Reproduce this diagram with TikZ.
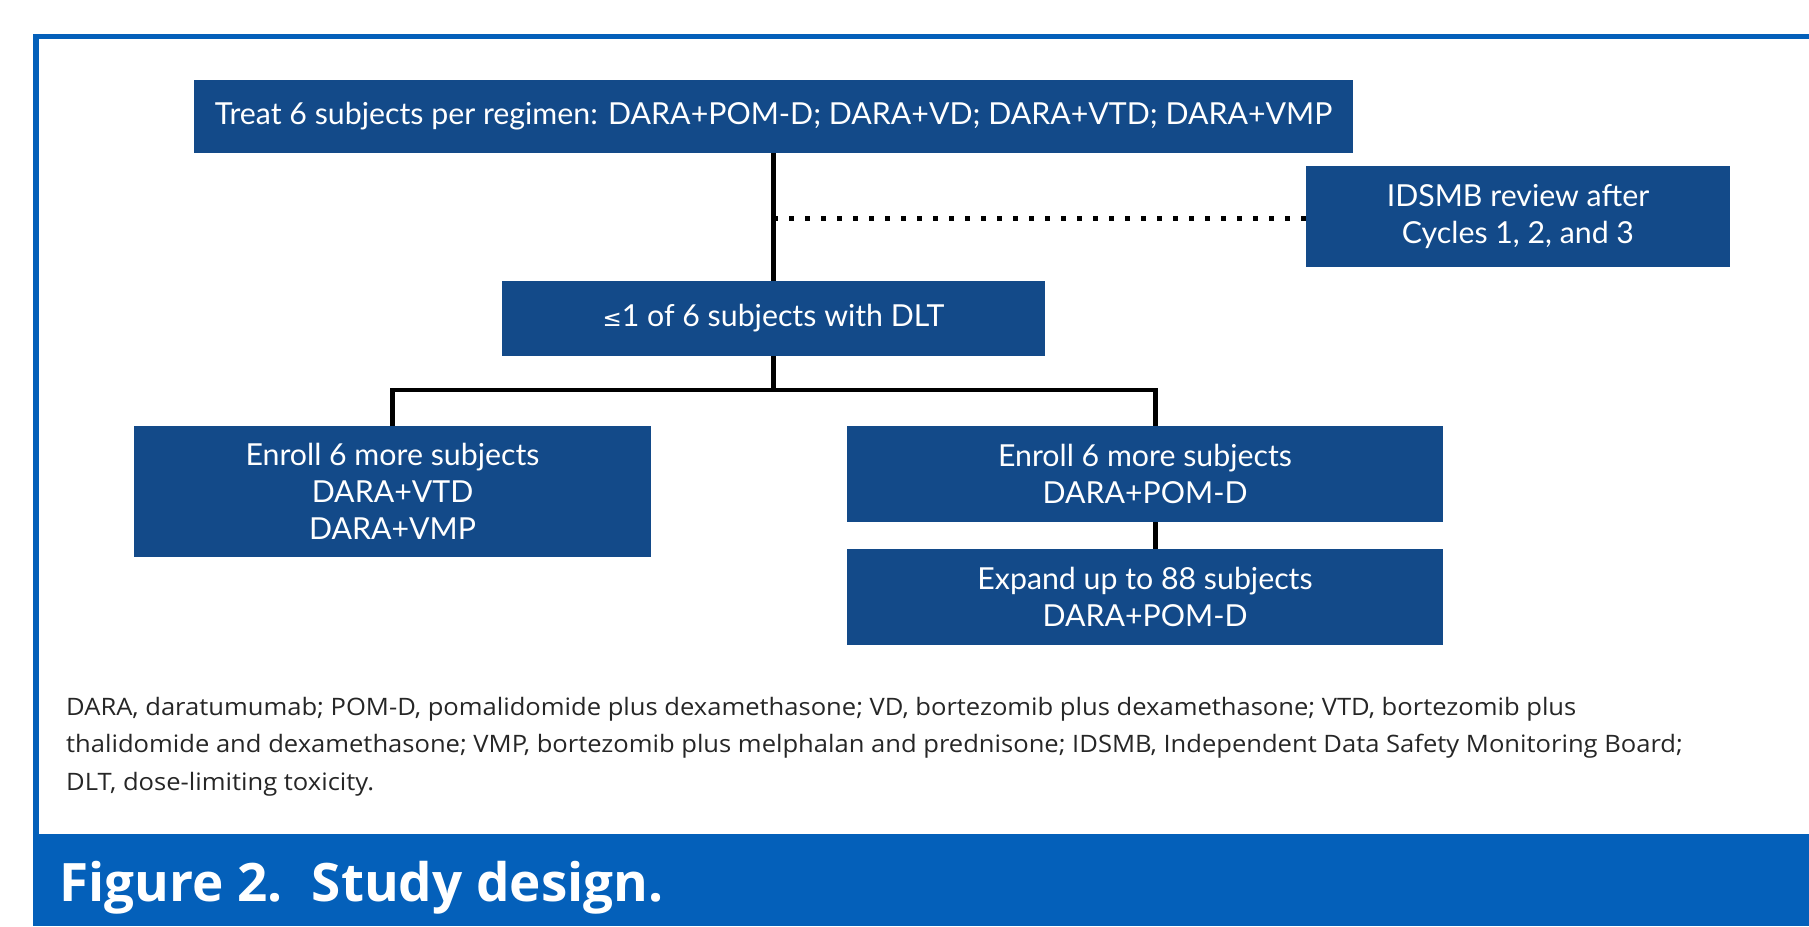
\documentclass[tikz,border=0pt]{standalone}
\usepackage{fontspec}
\setmainfont{Lato}
\newfontfamily\symfont{DejaVu Sans}
\newfontfamily\capfont{Open Sans}
\newfontfamily\notefont{Open Sans}[FakeStretch=1.065]
\definecolor{navy}{RGB}{19,74,137}
\definecolor{frameblue}{RGB}{4,96,186}

\begin{document}
\begin{tikzpicture}[x=1pt,y=-1pt,
  box/.style={fill=navy, text=white, inner sep=0pt, align=center,
    font=\fontsize{30.3}{37}\selectfont},
  conn/.style={draw=black, line width=4.5pt},
  dots/.style={draw=black, line width=5pt, dash pattern=on 5pt off 11pt, dash phase=0.5pt},
  note/.style={anchor=north west, inner sep=0pt, align=left, text=black!85,
    font=\notefont\fontsize{24}{37.5}\selectfont}]
\useasboundingbox (0,0) rectangle (1809,926);

% outer frame and caption band
\draw[frameblue, line width=5.5pt] (36,834) -- (36,36.5) -- (1815,36.5);
\fill[frameblue] (33,834) rectangle (1809,926);
\node[anchor=base west, inner sep=0pt, text=white,
  font=\capfont\bfseries\fontsize{53}{60}\selectfont] (caption) at (59,901)
  {Figure 2.\hspace{0.55em}Study design.};

% boxes
\node[box, minimum width=1159pt, minimum height=73pt] (top) at (773.5,116.5)
  {Treat 6 subjects per regimen: DARA+POM-D; DARA+VD; DARA+VTD; DARA+VMP};
\node[box, minimum width=424pt, minimum height=101pt] (idsmb) at (1518,216.5)
  {IDSMB review after\\Cycles 1, 2, and 3};
\node[box, minimum width=543pt, minimum height=75pt] (dlt) at (773.5,318.5)
  {{\symfont\fontsize{23}{23}\selectfont ≤}1 of 6 subjects with DLT};
\node[box, minimum width=517pt, minimum height=131pt] (left) at (392.5,491.5)
  {Enroll 6 more subjects\\DARA+VTD\\DARA+VMP};
\node[box, minimum width=596pt, minimum height=96pt] (r1) at (1145,474)
  {Enroll 6 more subjects\\DARA+POM-D};
\node[box, minimum width=596pt, minimum height=96pt] (r2) at (1145,597)
  {Expand up to 88 subjects\\DARA+POM-D};

% connectors
\coordinate (tap) at (773.5,218);
\coordinate (split) at (773.5,390);
\coordinate (lj) at (392.5,390);
\coordinate (rj) at (1155.5,390);
\draw[conn] (top) -- (dlt);
\draw[dots] (tap) -- (tap -| idsmb.west);
\draw[conn] (dlt) -- (split);
\draw[conn] (lj |- left.north) -- (lj) -- (rj) -- (rj |- r1.north);
\draw[conn] (rj |- r1.south) -- (rj |- r2.north);

% abbreviations
\node[note] (abbr) at (66,697)
  {DARA, daratumumab; POM-D, pomalidomide plus dexamethasone; VD, bortezomib plus dexamethasone; VTD, bortezomib plus\\
   thalidomide and dexamethasone; VMP, bortezomib plus melphalan and prednisone; IDSMB, Independent Data Safety Monitoring Board;\\
   DLT, dose-limiting toxicity.};
\end{tikzpicture}
\end{document}
